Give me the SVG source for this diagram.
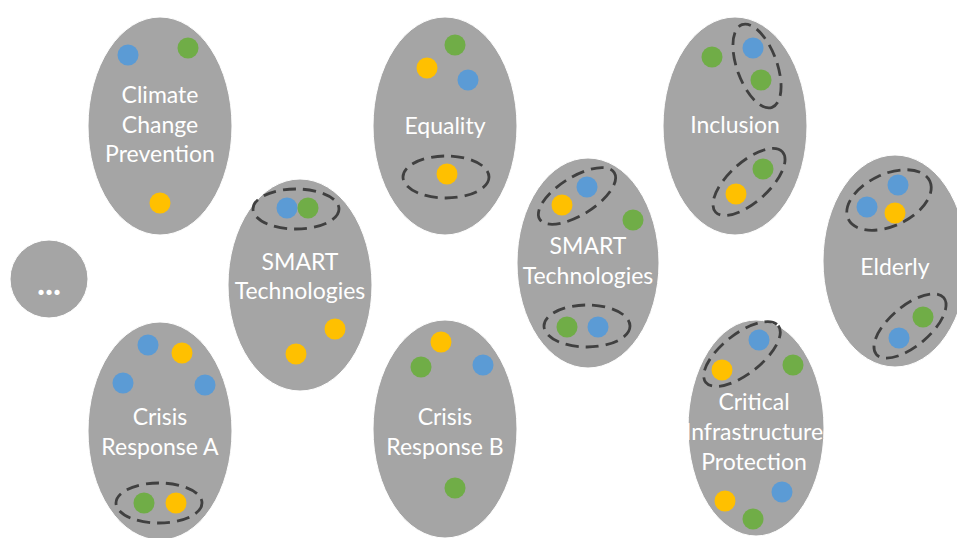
<svg xmlns="http://www.w3.org/2000/svg" width="957" height="538" viewBox="0 0 957 538">
<style>
.node{fill:#A5A5A5;stroke:#ffffff;stroke-width:1}
.lbl{fill:#ffffff;font-family:Lato,"Liberation Sans",sans-serif;font-size:23px;text-anchor:middle}
.b{fill:#5B9BD5}.g{fill:#70AD47}.y{fill:#FFC000}
.grp{fill:none;stroke:#404040;stroke-width:2.8;stroke-dasharray:13 7}
</style>
<rect width="957" height="538" fill="#ffffff"/>
<g id="more">
<circle class="node" cx="49" cy="279" r="39"/>
<text class="lbl" x="49" y="295" style="font-size:34px;font-weight:bold">...</text>
</g>
<g id="climate">
<ellipse class="node" cx="160" cy="126" rx="72" ry="109"/>
<circle class="b" cx="128" cy="55" r="10.5"/><circle class="g" cx="188" cy="48" r="10.5"/><circle class="y" cx="160" cy="203" r="10.5"/>
<text class="lbl" x="160" y="103">Climate</text><text class="lbl" x="160" y="133">Change</text><text class="lbl" x="160" y="162">Prevention</text>
</g>
<g id="smart1">
<ellipse class="node" cx="300" cy="285" rx="72" ry="106"/>
<ellipse class="grp" cx="296" cy="209" rx="43" ry="20"/>
<circle class="b" cx="287" cy="208" r="10.5"/><circle class="g" cx="308" cy="208" r="10.5"/>
<circle class="y" cx="335" cy="329" r="10.5"/><circle class="y" cx="296" cy="354" r="10.5"/>
<text class="lbl" x="300" y="270">SMART</text><text class="lbl" x="300" y="299">Technologies</text>
</g>
<g id="equality">
<ellipse class="node" cx="445" cy="126" rx="72" ry="109"/>
<circle class="g" cx="455" cy="45" r="10.5"/><circle class="y" cx="427" cy="68" r="10.5"/><circle class="b" cx="468" cy="80" r="10.5"/>
<ellipse class="grp" cx="446" cy="177" rx="43" ry="21"/>
<circle class="y" cx="447" cy="174" r="10.5"/>
<text class="lbl" x="445" y="134">Equality</text>
</g>
<g id="smart2">
<ellipse class="node" cx="588" cy="263" rx="71" ry="105"/>
<ellipse class="grp" cx="0" cy="0" rx="44" ry="19" transform="translate(577,196) rotate(-32)"/>
<circle class="y" cx="562" cy="205" r="10.5"/><circle class="b" cx="587" cy="187" r="10.5"/>
<circle class="g" cx="633" cy="220" r="10.5"/>
<ellipse class="grp" cx="587" cy="326" rx="43" ry="21"/>
<circle class="g" cx="567" cy="327" r="10.5"/><circle class="b" cx="598" cy="327" r="10.5"/>
<text class="lbl" x="588" y="254">SMART</text><text class="lbl" x="588" y="284">Technologies</text>
</g>
<g id="inclusion">
<ellipse class="node" cx="735" cy="126" rx="72" ry="109"/>
<circle class="g" cx="712" cy="57" r="10.5"/>
<ellipse class="grp" cx="0" cy="0" rx="44" ry="20" transform="translate(757,66) rotate(70)"/>
<circle class="b" cx="753" cy="48" r="10.5"/><circle class="g" cx="761" cy="80" r="10.5"/>
<ellipse class="grp" cx="0" cy="0" rx="45" ry="20" transform="translate(749,182) rotate(-42)"/>
<circle class="g" cx="763" cy="169" r="10.5"/><circle class="y" cx="736" cy="194" r="10.5"/>
<text class="lbl" x="735" y="133">Inclusion</text>
</g>
<g id="elderly">
<ellipse class="node" cx="895" cy="261" rx="72" ry="106"/>
<ellipse class="grp" cx="0" cy="0" rx="45" ry="26" transform="translate(889,200) rotate(-25)"/>
<circle class="b" cx="898" cy="185" r="10.5"/><circle class="b" cx="867" cy="207" r="10.5"/><circle class="y" cx="895" cy="213" r="10.5"/>
<ellipse class="grp" cx="0" cy="0" rx="44" ry="20" transform="translate(910,326) rotate(-40)"/>
<circle class="g" cx="923" cy="317" r="10.5"/><circle class="b" cx="899" cy="338" r="10.5"/>
<text class="lbl" x="895" y="275">Elderly</text>
</g>
<g id="crisisA">
<ellipse class="node" cx="160" cy="431" rx="72" ry="109"/>
<circle class="b" cx="148" cy="345" r="10.5"/><circle class="y" cx="182" cy="353" r="10.5"/><circle class="b" cx="123" cy="383" r="10.5"/><circle class="b" cx="205" cy="385" r="10.5"/>
<ellipse class="grp" cx="159" cy="503" rx="43" ry="20"/>
<circle class="g" cx="144" cy="503" r="10.5"/><circle class="y" cx="176" cy="503" r="10.5"/>
<text class="lbl" x="160" y="425">Crisis</text><text class="lbl" x="160" y="455">Response A</text>
</g>
<g id="crisisB">
<ellipse class="node" cx="445" cy="429" rx="72" ry="109"/>
<circle class="y" cx="441" cy="342" r="10.5"/><circle class="g" cx="421" cy="367" r="10.5"/><circle class="b" cx="483" cy="365" r="10.5"/><circle class="g" cx="455" cy="488" r="10.5"/>
<text class="lbl" x="445" y="425">Crisis</text><text class="lbl" x="445" y="455">Response B</text>
</g>
<g id="critical">
<ellipse class="node" cx="756" cy="428" rx="68" ry="108"/>
<ellipse class="grp" cx="0" cy="0" rx="46" ry="20" transform="translate(742,354) rotate(-38)"/>
<circle class="b" cx="759" cy="340" r="10.5"/><circle class="y" cx="722" cy="370" r="10.5"/>
<circle class="g" cx="793" cy="365" r="10.5"/>
<circle class="y" cx="725" cy="501" r="10.5"/><circle class="b" cx="782" cy="492" r="10.5"/><circle class="g" cx="753" cy="519" r="10.5"/>
<text class="lbl" x="754" y="410">Critical</text><text class="lbl" x="754" y="440">Infrastructure</text><text class="lbl" x="754" y="470">Protection</text>
</g>
<g id="connectors"></g>
</svg>
